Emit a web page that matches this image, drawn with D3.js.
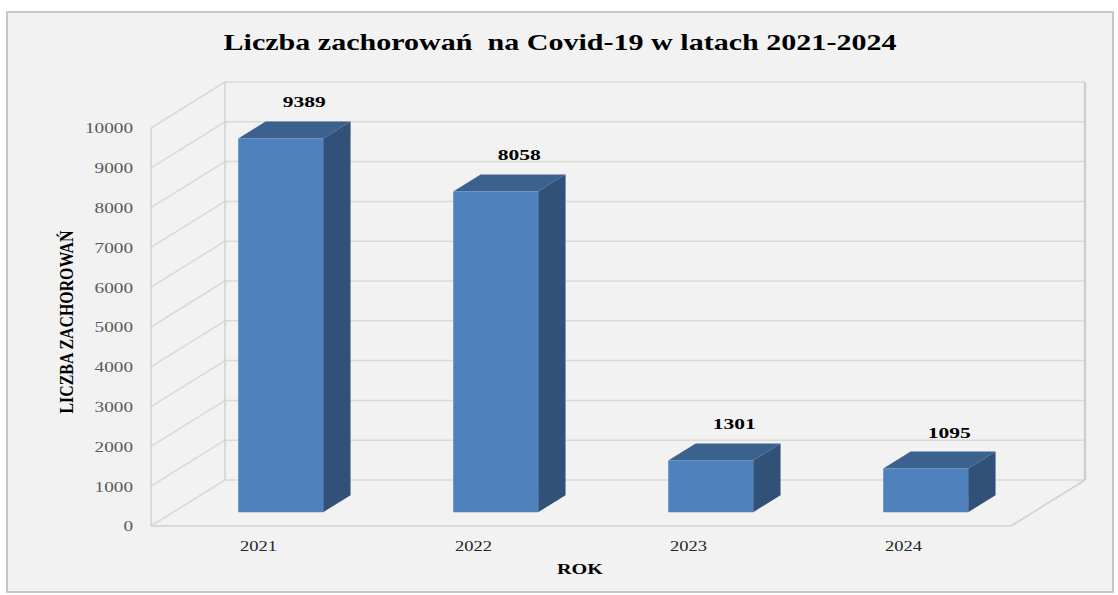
<!DOCTYPE html>
<html>
<head>
<meta charset="utf-8">
<script src="https://cdn.jsdelivr.net/npm/d3@7"></script>
<style>
  body { margin: 0; background: #fff; }
  svg text { font-family: "Liberation Serif", "Times New Roman", serif; }
</style>
</head>
<body>
<script>
// Chart data
var years = ["2021", "2022", "2023", "2024"];
var cases = [9389, 8058, 1301, 1095];
var yTicks = [0, 1000, 2000, 3000, 4000, 5000, 6000, 7000, 8000, 9000, 10000];

var W = 1118, H = 595;

// Front plane of the 3D box and depth offset
var front = { left: 151, right: 1011, top: 128, bottom: 526 },
    depth = { dx: 74, dy: -46 };

// bar sits between these depth fractions
var barZ0 = 0.3, barZ1 = 0.67, barRatio = 0.395;

var svg = d3.select("body").append("svg")
  .attr("width", W)
  .attr("height", H);

// background + outer frame
svg.append("rect")
  .attr("x", 7).attr("y", 12)
  .attr("width", 1106).attr("height", 580)
  .attr("fill", "#f2f2f2")
  .attr("stroke", "#c6c6c6")
  .attr("stroke-width", 2);

var x = d3.scaleBand()
  .domain(years)
  .range([front.left, front.right])
  .padding(0);

var y = d3.scaleLinear()
  .domain([0, 10000])
  .range([front.bottom, front.top]);

// project a front-plane point into depth z (0 = front, 1 = back)
function proj(px, v, z) {
  return [px + z * depth.dx, y(v) + z * depth.dy];
}

var grid = svg.append("g").attr("class", "grid");
var gridColor = "#d9d9d9";

// back wall horizontal gridlines
grid.selectAll(".back-line")
  .data(yTicks)
  .enter().append("line")
  .attr("class", "back-line")
  .attr("x1", function (d) { return proj(front.left, d, 1)[0]; })
  .attr("x2", function (d) { return proj(front.right, d, 1)[0]; })
  .attr("y1", function (d) { return proj(front.left, d, 1)[1]; })
  .attr("y2", function (d) { return proj(front.right, d, 1)[1]; })
  .attr("stroke", gridColor)
  .attr("stroke-width", 1.5);

// side wall diagonals
grid.selectAll(".side-line")
  .data(yTicks)
  .enter().append("line")
  .attr("class", "side-line")
  .attr("x1", function (d) { return proj(front.left, d, 0)[0]; })
  .attr("x2", function (d) { return proj(front.left, d, 1)[0]; })
  .attr("y1", function (d) { return proj(front.left, d, 0)[1]; })
  .attr("y2", function (d) { return proj(front.left, d, 1)[1]; })
  .attr("stroke", gridColor)
  .attr("stroke-width", 1.5);

// box edges
var edges = [
  [proj(front.left, 0, 0), proj(front.left, 10000, 0)],
  [proj(front.left, 0, 1), proj(front.left, 10000, 1)],
  [proj(front.right, 0, 1), proj(front.right, 10000, 1)],
  [proj(front.left, 0, 0), proj(front.right, 0, 0)],
  [proj(front.right, 0, 0), proj(front.right, 0, 1)]
];
grid.selectAll(".edge")
  .data(edges)
  .enter().append("line")
  .attr("class", "edge")
  .attr("x1", function (d) { return d[0][0]; })
  .attr("y1", function (d) { return d[0][1]; })
  .attr("x2", function (d) { return d[1][0]; })
  .attr("y2", function (d) { return d[1][1]; })
  .attr("stroke", "#d0d0d0")
  .attr("stroke-width", function (d, i) { return i == 2 ? 2.5 : 1.5; });

// bars
var data = years.map(function (yr, i) { return { year: yr, value: cases[i] }; });

var bars = svg.selectAll(".bar")
  .data(data)
  .enter().append("g")
  .attr("class", "bar");

function barBox(d) {
  var bw = x.bandwidth() * barRatio;
  var x0 = x(d.year) + (x.bandwidth() - bw) / 2;
  return { x0: x0, x1: x0 + bw };
}

function pts(arr) {
  return arr.map(function (p) { return p.join(","); }).join(" ");
}

// top face
bars.append("polygon")
  .attr("points", function (d) {
    var b = barBox(d);
    return pts([proj(b.x0, d.value, barZ0), proj(b.x1, d.value, barZ0),
      proj(b.x1, d.value, barZ1), proj(b.x0, d.value, barZ1)]);
  })
  .attr("fill", "#3b618f");

// side face
bars.append("polygon")
  .attr("points", function (d) {
    var b = barBox(d);
    return pts([proj(b.x1, 0, barZ0), proj(b.x1, d.value, barZ0),
      proj(b.x1, d.value, barZ1), proj(b.x1, 0, barZ1)]);
  })
  .attr("fill", "#315179");

// front face
bars.append("polygon")
  .attr("points", function (d) {
    var b = barBox(d);
    return pts([proj(b.x0, 0, barZ0), proj(b.x1, 0, barZ0),
      proj(b.x1, d.value, barZ0), proj(b.x0, d.value, barZ0)]);
  })
  .attr("fill", "#4f81bd");

// value labels
bars.append("text")
  .attr("x", function (d) { return proj(x(d.year) + x.bandwidth() / 2, d.value, 0.62)[0]; })
  .attr("y", function (d) { return proj(0, d.value, barZ1)[1] - 14; })
  .attr("text-anchor", "middle")
  .attr("textLength", 43)
  .attr("lengthAdjust", "spacingAndGlyphs")
  .style("font-size", "15px")
  .style("font-weight", "bold")
  .style("fill", "#000")
  .text(function (d) { return d.value; });

// y axis
var yAxis = svg.append("g")
  .attr("transform", "translate(" + front.left + ",0)")
  .call(d3.axisLeft(y).tickValues(yTicks).tickFormat(d3.format("d")).tickSize(0).tickPadding(18));
yAxis.select(".domain").remove();
yAxis.selectAll("text")
  .attr("textLength", function (d) { return String(d).length * 9.6; })
  .attr("lengthAdjust", "spacingAndGlyphs")
  .style("font-family", "'Liberation Serif', serif")
  .style("font-size", "15px")
  .style("fill", "#595959");

// x axis
var xAxis = svg.append("g")
  .attr("transform", "translate(0," + front.bottom + ")")
  .call(d3.axisBottom(x).tickSize(0).tickPadding(14));
xAxis.select(".domain").remove();
xAxis.selectAll("text")
  .attr("textLength", 37)
  .attr("lengthAdjust", "spacingAndGlyphs")
  .style("font-family", "'Liberation Serif', serif")
  .style("font-size", "15px")
  .style("fill", "#262626");

// title
svg.append("text")
  .attr("x", 560)
  .attr("y", 50)
  .attr("text-anchor", "middle")
  .attr("textLength", 673)
  .attr("lengthAdjust", "spacingAndGlyphs")
  .style("font-size", "24px")
  .style("font-weight", "bold")
  .style("white-space", "pre")
  .style("fill", "#000")
  .text("Liczba zachorowań  na Covid-19 w latach 2021-2024");

// axis titles
svg.append("text")
  .attr("x", 580)
  .attr("y", 574)
  .attr("text-anchor", "middle")
  .attr("textLength", 46)
  .attr("lengthAdjust", "spacingAndGlyphs")
  .style("font-size", "15px")
  .style("font-weight", "bold")
  .text("ROK");

svg.append("text")
  .attr("transform", "translate(73,322) scale(1.3,1) rotate(-90)")
  .attr("text-anchor", "middle")
  .attr("textLength", 183)
  .attr("lengthAdjust", "spacingAndGlyphs")
  .style("font-size", "15px")
  .style("font-weight", "bold")
  .text("LICZBA ZACHOROWAŃ");
</script>
</body>
</html>
